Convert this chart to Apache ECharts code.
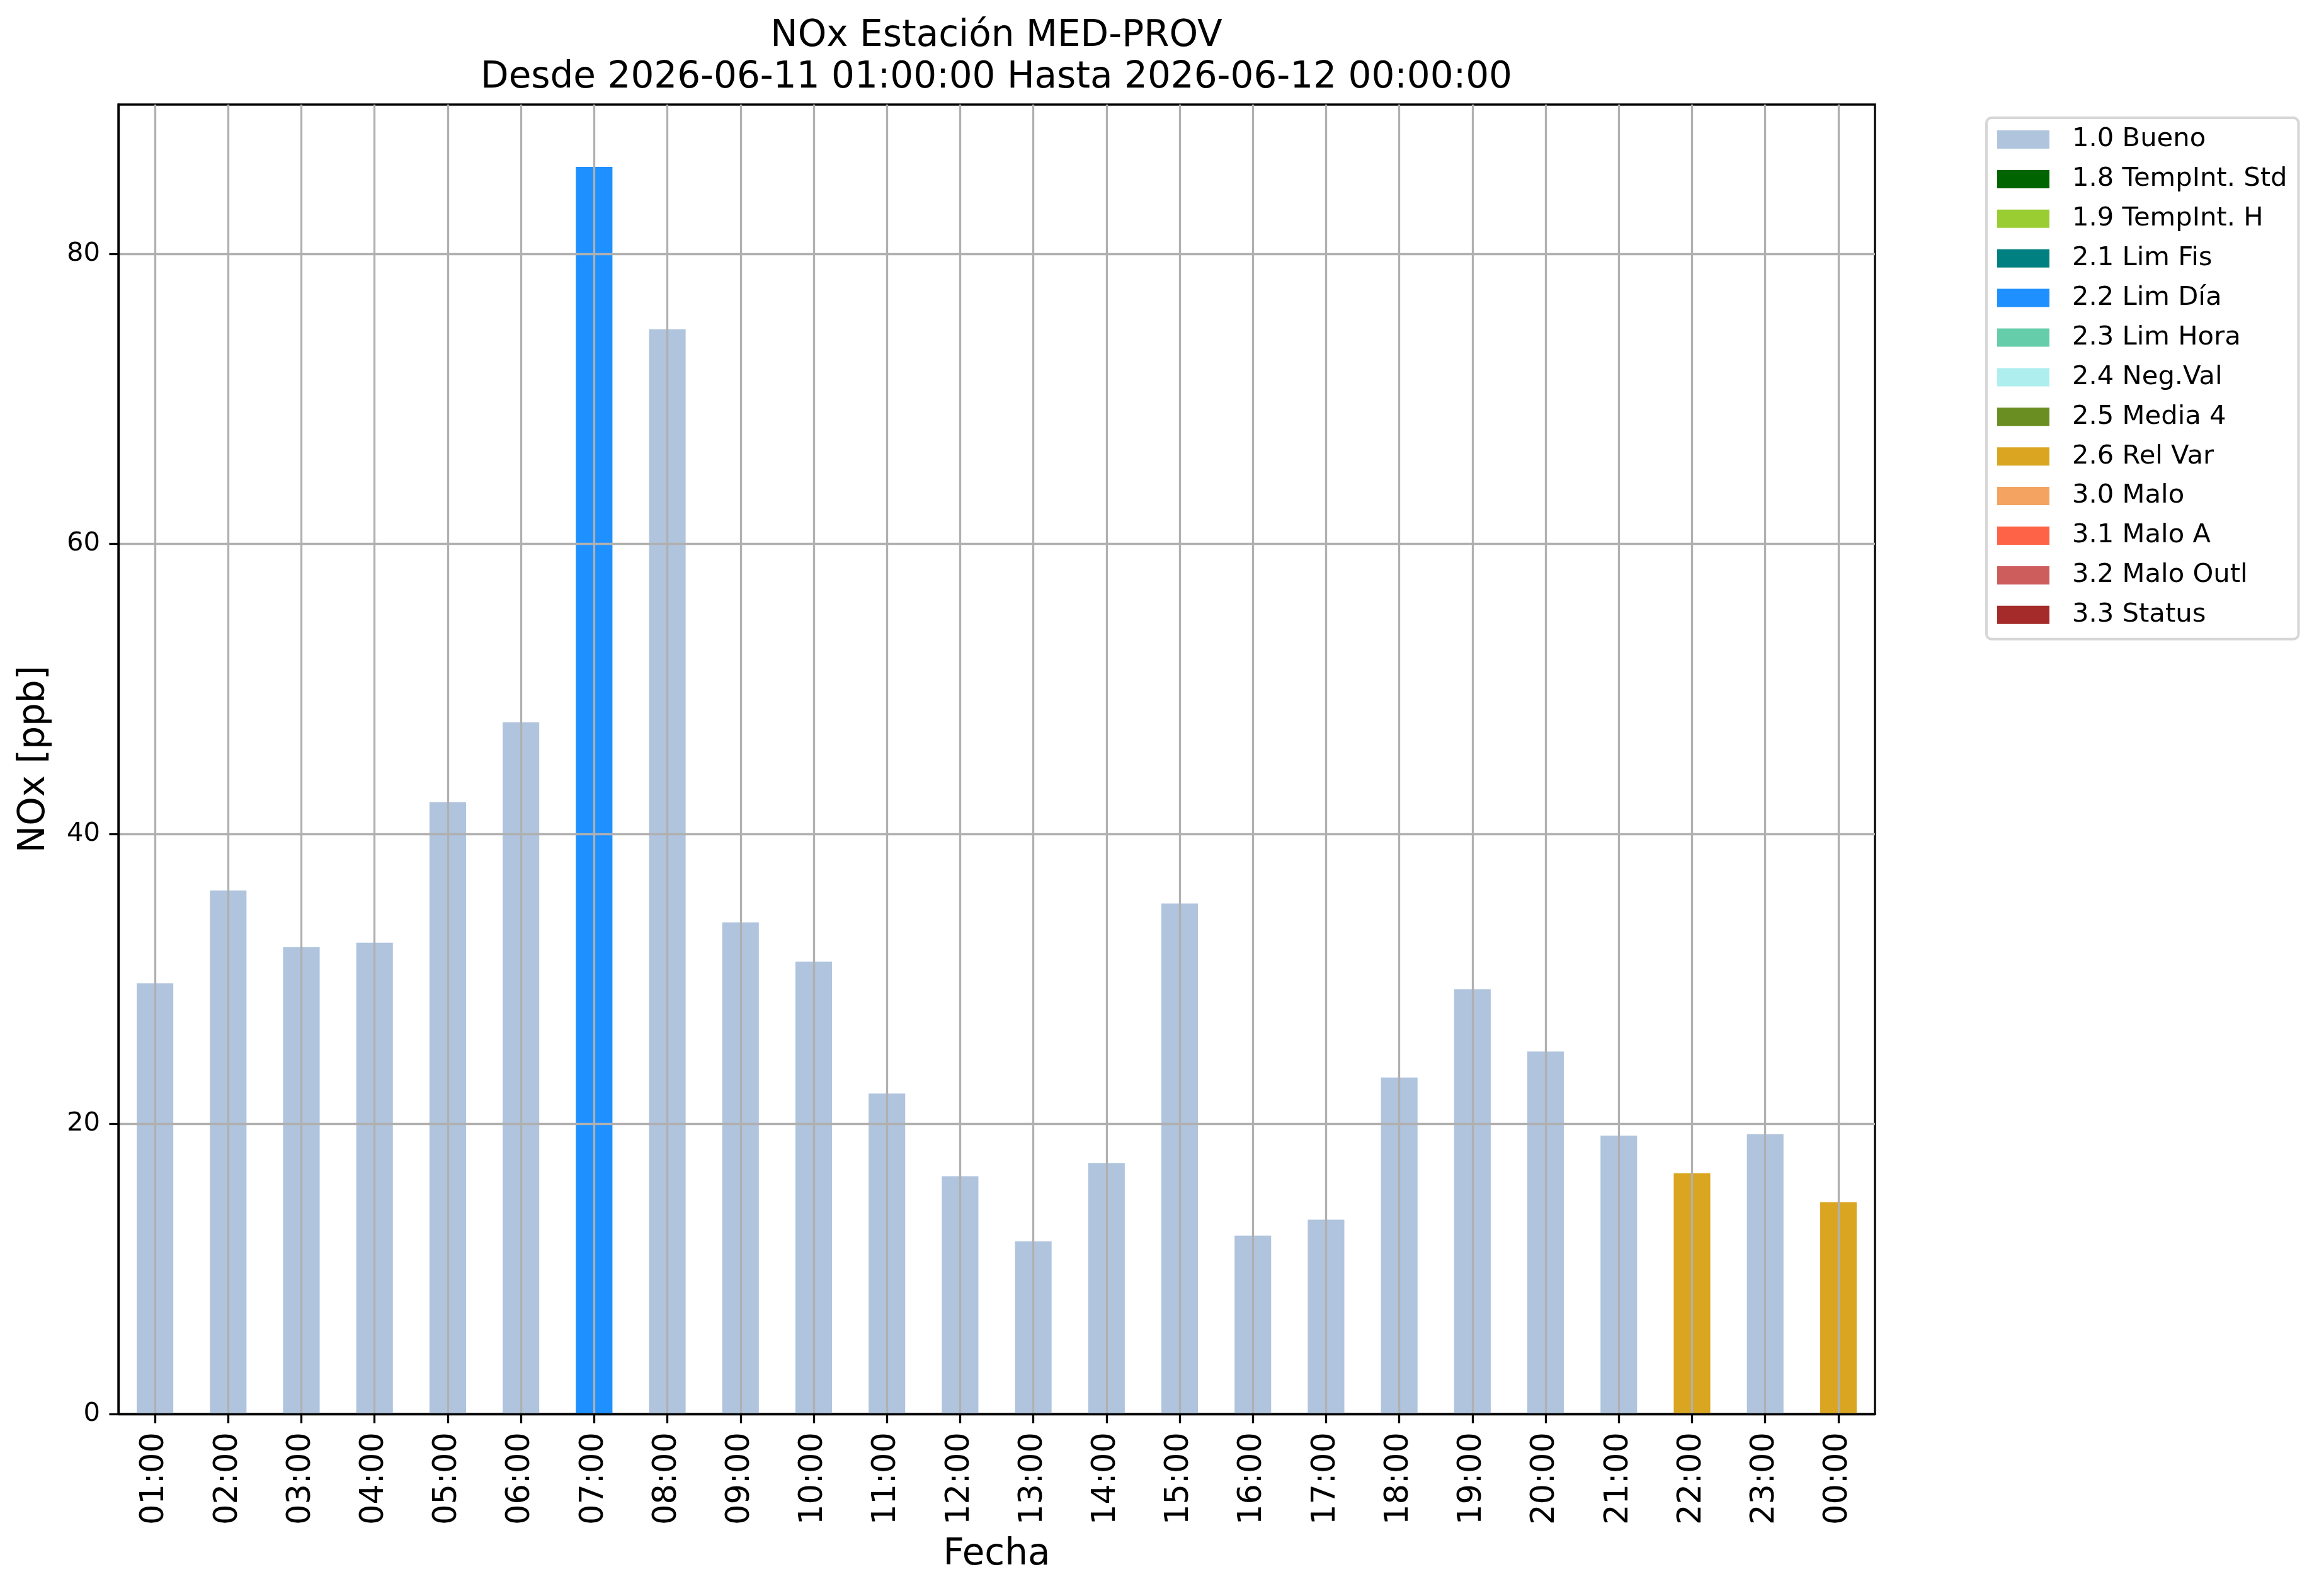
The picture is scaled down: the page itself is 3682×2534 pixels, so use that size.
<!DOCTYPE html>
<html>
<head>
<meta charset="utf-8">
<title>NOx Estación MED-PROV</title>
<script src="https://cdn.jsdelivr.net/npm/echarts@6/dist/echarts.min.js"></script>
<style>
  html, body { margin: 0; padding: 0; background: #fff; }
  #main { width: 3682px; height: 2534px; }
</style>
</head>
<body>
<div id="main"></div>
<script>
// horas del periodo
var hours = ['01:00', '02:00', '03:00', '04:00', '05:00', '06:00', '07:00', '08:00',
  '09:00', '10:00', '11:00', '12:00', '13:00', '14:00', '15:00', '16:00',
  '17:00', '18:00', '19:00', '20:00', '21:00', '22:00', '23:00', '00:00'];

// NOx [ppb] por hora
var nox = [29.7, 36.1, 32.2, 32.5, 42.2, 47.7, 86.0, 74.8,
  33.9, 31.2, 22.1, 16.4, 11.9, 17.3, 35.2, 12.3,
  13.4, 23.2, 29.3, 25.0, 19.2, 16.6, 19.3, 14.6];

// bandera de calidad de cada hora
var flags = ['1.0', '1.0', '1.0', '1.0', '1.0', '1.0', '2.2', '1.0',
  '1.0', '1.0', '1.0', '1.0', '1.0', '1.0', '1.0', '1.0',
  '1.0', '1.0', '1.0', '1.0', '1.0', '2.6', '1.0', '2.6'];

// leyenda de banderas
var flagCodes = ['1.0', '1.8', '1.9', '2.1', '2.2', '2.3', '2.4', '2.5', '2.6', '3.0', '3.1', '3.2', '3.3'];
var flagNames = ['1.0 Bueno', '1.8 TempInt. Std', '1.9 TempInt. H', '2.1 Lim Fis', '2.2 Lim Día',
  '2.3 Lim Hora', '2.4 Neg.Val', '2.5 Media 4', '2.6 Rel Var', '3.0 Malo', '3.1 Malo A',
  '3.2 Malo Outl', '3.3 Status'];
var flagColors = ['#b0c4de', '#006400', '#9acd32', '#008080', '#1e90ff', '#66cdaa', '#afeeee',
  '#6b8e23', '#daa520', '#f4a460', '#ff6347', '#cd5c5c', '#a52a2a'];

var yTicks = [0, 20, 40, 60, 80];

var FONT = 'DejaVu Sans';
var LW = 3.3;        // 0.8pt
var TICK = 14.6;     // 3.5pt
var GRID_COLOR = '#b0b0b0';

var myChart = echarts.init(document.getElementById('main'));

// una serie por bandera, apiladas para compartir posicion
var series = flagCodes.map(function (code, k) {
  return {
    name: flagNames[k],
    type: 'bar',
    stack: 'nox',
    barWidth: '50%',
    itemStyle: { color: flagColors[k] },
    emphasis: { disabled: true },
    data: hours.map(function (h, i) { return flags[i] === code ? nox[i] : null; })
  };
});

// lineas verticales de la rejilla en cada hora
series.push({
  name: 'grid',
  type: 'line',
  data: [],
  silent: true,
  markLine: {
    silent: true,
    symbol: ['none', 'none'],
    label: { show: false },
    lineStyle: { color: GRID_COLOR, width: LW, type: 'solid' },
    emphasis: { disabled: true },
    animation: false,
    data: hours.map(function (h) { return { xAxis: h }; })
  }
});

var option = {
  animation: false,
  backgroundColor: '#fff',
  title: {
    text: 'NOx Estación MED-PROV\nDesde 2026-06-11 01:00:00 Hasta 2026-06-12 00:00:00',
    left: 1582,
    top: 25,
    textAlign: 'center',
    padding: 0,
    textStyle: {
      fontFamily: FONT,
      fontSize: 58,
      fontWeight: 'normal',
      color: '#000',
      lineHeight: 66
    }
  },
  legend: {
    orient: 'vertical',
    left: 3154,
    top: 187,
    padding: [13.5, 18, 17.5, 17],
    itemWidth: 83,
    itemHeight: 29,
    itemGap: 20.9,
    icon: 'rect',
    selectedMode: false,
    borderColor: '#d6d6d6',
    borderWidth: 4,
    borderRadius: 8,
    backgroundColor: '#fff',
    data: flagNames,
    textStyle: {
      fontFamily: FONT,
      fontSize: 41.7,
      color: '#000',
      padding: [0, 0, 0, 31]
    }
  },
  grid: {
    left: 188,
    right: 705,
    top: 166,
    bottom: 289,
    show: true,
    borderColor: '#000',
    borderWidth: LW,
    backgroundColor: 'transparent'
  },
  xAxis: {
    type: 'category',
    data: hours,
    z: 6,
    name: 'Fecha',
    nameLocation: 'middle',
    nameGap: 195,
    nameTextStyle: { fontFamily: FONT, fontSize: 58, color: '#000' },
    axisLine: { show: true, lineStyle: { color: '#000', width: LW } },
    axisTick: { show: true, alignWithLabel: true, length: TICK, lineStyle: { color: '#000', width: LW } },
    axisLabel: {
      interval: 0,
      rotate: 90,
      margin: 29,
      fontFamily: FONT,
      fontSize: 51,
      color: '#000'
    },
    splitLine: { show: false }
  },
  yAxis: {
    type: 'value',
    min: 0,
    max: Math.max.apply(null, nox) * 1.05,
    interval: 20,
    z: 6,
    name: 'NOx [ppb]',
    nameLocation: 'middle',
    nameGap: 104,
    nameTextStyle: { fontFamily: FONT, fontSize: 58, color: '#000' },
    axisLine: { show: true, lineStyle: { color: '#000', width: LW } },
    axisTick: { show: true, length: TICK, customValues: yTicks, lineStyle: { color: '#000', width: LW } },
    axisLabel: {
      customValues: yTicks,
      margin: 29,
      fontFamily: FONT,
      fontSize: 41.7,
      color: '#000'
    },
    splitLine: { show: true, lineStyle: { color: GRID_COLOR, width: LW } }
  },
  series: series
};

myChart.setOption(option);
</script>
</body>
</html>
